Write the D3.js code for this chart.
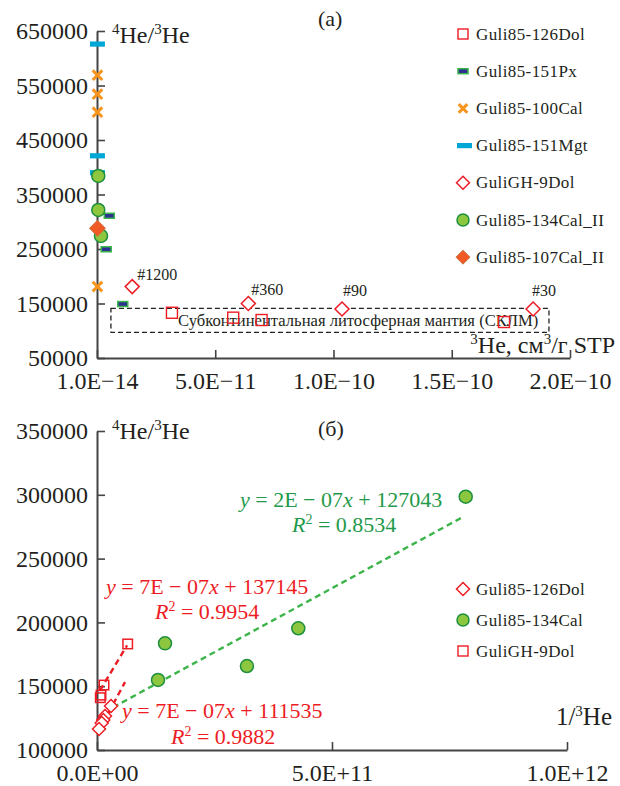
<!DOCTYPE html>
<html><head><meta charset="utf-8">
<script src="https://cdn.jsdelivr.net/npm/d3@7"></script>
<style>
body{margin:0;background:#fff;}
svg{display:block;font-family:"Liberation Serif","DejaVu Serif",serif;}
text{font-family:"Liberation Serif","DejaVu Serif",serif;fill:#231f20;}
</style></head>
<body><svg id="c" width="620" height="786"></svg>
<script>
// ---------- data: panel (a) ----------
const topTicksX = [1e-14, 5e-11, 1e-10, 1.5e-10, 2e-10];
const topTickLabelsX = ["1.0E\u221214","5.0E\u221211","1.0E\u221210","1.5E\u221210","2.0E\u221210"];
const topTicksY = [50000,150000,250000,350000,450000,550000,650000];
const dol126 = [[3.17e-11,133000],[5.76e-11,124000],[6.96e-11,119700],[1.721e-10,116000]];
const px151 = [[5.2e-12,311000],[3.9e-12,249500],[1.09e-11,149000]];
const cal100 = [[2e-13,569000],[2e-13,534000],[2e-13,501000],[2e-13,181000]];
const mgt151 = [[2e-13,626000],[2e-13,421000],[2e-13,390000]];
const gh9 = [[1.49e-11,181000],[6.40e-11,150000],[1.036e-10,140000],[1.844e-10,140000]];
const gh9Labels = ["#1200","#360","#90","#30"];
const cal134 = [[5.5e-13,384000],[5.5e-13,321600],[1.7e-12,274000]];
const cal107 = [[2e-13,288000]];
const sclmX = [5.9e-12, 1.911e-10];
const sclmY = [97000, 141000];
const sclmText = "Субконтинентальная литосферная мантия (СКЛМ)";
const legendTop = ["Guli85-126Dol","Guli85-151Px","Guli85-100Cal","Guli85-151Mgt","GuliGH-9Dol","Guli85-134Cal_II","Guli85-107Cal_II"];

// ---------- data: panel (б) ----------
const botTicksX = [0, 5e11, 1e12];
const botTickLabelsX = ["0.0E+00","5.0E+11","1.0E+12"];
const botTicksY = [100000,150000,200000,250000,300000,350000];
const cal134b = [[7.845e11,298500],[4.283e11,195400],[1.447e11,183600],[1.298e11,154900],[3.19e11,165800]];
const gh9b = [[6.53e10,183100],[1.49e10,150900],[7e9,141000],[8.5e9,143000]];
const dol126b = [[2.98e10,134500],[1.7e10,126600],[1.34e10,123500],[1.0e10,121200],[4.3e9,116500]];
const trendGreen = [[3.4e10,133400],[7.79e11,282700]];
const trendRedSq = [[6.4e9,146700],[6.4e10,182000]];
const trendRedDia = [[4.3e9,115300],[5.96e10,153200]];
const legendBot = ["Guli85-126Dol","Guli85-134Cal","GuliGH-9Dol"];
const eqGreen = ["2E \u2212 07", " + 127043", "0.8534"];
const eqRed1 = ["7E \u2212 07", " + 137145", "0.9954"];
const eqRed2 = ["7E \u2212 07", " + 111535", "0.9882"];

// ---------- styles ----------
const FONT = '"Liberation Serif","DejaVu Serif",serif';
const RED = "#ed1c24", GREEN_TXT = "#1f9a4a", GREEN_LINE = "#3cb44a";
const CIRC_FILL = "#8dc63f", CIRC_STROKE = "#1d8f3e";
const ORANGE = "#f7941d", ORANGE_D = "#f15a24", CYAN = "#00a6d6";
const PX_FILL = "#2e3192", PX_STROKE = "#39b54a";
const AXIS = "#444";

const svg = d3.select("#c");
svg.append("rect").attr("width",620).attr("height",786).attr("fill","#fff");

// marker helpers
function square(g, x, y, s, sw){ g.append("rect").attr("x",x-s/2).attr("y",y-s/2).attr("width",s).attr("height",s).attr("fill","none").attr("stroke",RED).attr("stroke-width",sw||1.4); }
function diamond(g, x, y, h, fill, stroke, sw){ g.append("path").attr("d",`M${x},${y-h}L${x+h},${y}L${x},${y+h}L${x-h},${y}Z`).attr("fill",fill).attr("stroke",stroke).attr("stroke-width",sw||1.4); }
function circle(g, x, y, r){ g.append("circle").attr("cx",x).attr("cy",y).attr("r",r).attr("fill",CIRC_FILL).attr("stroke",CIRC_STROKE).attr("stroke-width",1.5); }
function pxMark(g, x, y){ g.append("rect").attr("x",x-5).attr("y",y-2.5).attr("width",10).attr("height",5).attr("fill",PX_FILL).attr("stroke",PX_STROKE).attr("stroke-width",1.5); }
function cross(g, x, y, s){ g.append("path").attr("d",`M${x-s},${y-s}L${x+s},${y+s}M${x-s},${y+s}L${x+s},${y-s}`).attr("stroke",ORANGE).attr("stroke-width",3); }
function mgt(g, x, y, w){ g.append("rect").attr("x",x-w/2).attr("y",y-2.6).attr("width",w).attr("height",5.2).attr("fill",CYAN); }

function txt(g, x, y, size, color){
  return g.append("text").attr("x",x).attr("y",y).attr("font-size",size).attr("fill",color||"#231f20").style("font-family",FONT);
}
function heLabel(g, x, y, anchor, big, small, parts){
  const t = txt(g, x, y, big).attr("text-anchor",anchor);
  let up = false;
  parts.forEach(p=>{
    const sup = p[0]==="^";
    const s = t.append("tspan").text(sup? p.slice(1): p);
    if(sup){ s.attr("font-size",small).attr("dy", up? 0 : -big*0.38); up = true; }
    else { s.attr("font-size",big).attr("dy", up? big*0.38 : 0); up = false; }
  });
  return t;
}
function styleAxis(g){
  g.attr("font-family",null);
  g.selectAll("path.domain").attr("stroke",AXIS).attr("stroke-width",2);
  g.selectAll("line").attr("stroke",AXIS).attr("stroke-width",1.6);
  g.selectAll("text").attr("font-size",24).attr("fill","#231f20").style("font-family",FONT);
}

// ================= panel (a) =================
const xA = d3.scaleLinear().domain([1e-14, 2e-10]).range([97, 570]);
const yA = d3.scaleLinear().domain([50000, 650000]).range([358, 31]);
const gA = svg.append("g");

const axYA = d3.axisLeft(yA).tickValues(topTicksY).tickFormat(d3.format("d")).tickSize(-8).tickSizeOuter(0).tickPadding(9);
const gyA = gA.append("g").attr("transform","translate(97,0)").call(axYA);
const axXA = d3.axisBottom(xA).tickValues(topTicksX).tickFormat((d,i)=>topTickLabelsX[i]).tickSize(-8).tickSizeOuter(0).tickPadding(14);
const gxA = gA.append("g").attr("transform","translate(0,358)").call(axXA);
styleAxis(gyA); styleAxis(gxA);
gyA.selectAll(".tick text").attr("dy","0.32em");

// SCLM box
gA.append("rect").attr("x",xA(sclmX[0])).attr("y",yA(sclmY[1]))
  .attr("width",xA(sclmX[1])-xA(sclmX[0])).attr("height",yA(sclmY[0])-yA(sclmY[1]))
  .attr("fill","none").attr("stroke","#222").attr("stroke-width",1.3).attr("stroke-dasharray","5,3");
txt(gA, 178, 326, 16.6, GREEN_TXT).text(sclmText);

// series in legend order
dol126.forEach(d=>square(gA, xA(d[0]), yA(d[1]), 11));
px151.forEach(d=>pxMark(gA, xA(d[0]), yA(d[1])));
cal100.forEach(d=>cross(gA, xA(d[0]), yA(d[1]), 4.8));
mgt151.forEach(d=>mgt(gA, xA(d[0]), yA(d[1]), 15));
const gh9Off = [[5,-7],[3,-9],[1,-13],[-1,-13]];
gh9.forEach((d,i)=>{
  diamond(gA, xA(d[0]), yA(d[1]), 7, "#fff", RED, 1.5);
  txt(gA, xA(d[0])+gh9Off[i][0], yA(d[1])+gh9Off[i][1], 16, RED).text(gh9Labels[i]);
});
cal134.forEach(d=>circle(gA, xA(d[0]), yA(d[1]), 6.5));
cal107.forEach(d=>diamond(gA, xA(d[0]), yA(d[1]), 8, ORANGE_D, "#c8703c", 1));

heLabel(gA, 112, 43, "start", 24, 15, ["^4","He/","^3","He"]);
heLabel(gA, 615, 353, "end", 24, 15, ["^3","He, см","^3","/г STP"]);
txt(gA, 318, 26, 22).text("(a)");

// legend (a)
const legA = gA.append("g");
legendTop.forEach((name,i)=>{
  const y = 34 + i*37.2, x = 463;
  if(i===0) square(legA, x, y, 10);
  if(i===1) pxMark(legA, x, y);
  if(i===2) cross(legA, x, y, 4.3);
  if(i===3) mgt(legA, x+1.5, y, 15);
  if(i===4) diamond(legA, x, y, 6.5, "#fff", RED, 1.5);
  if(i===5) circle(legA, x, y, 6);
  if(i===6) diamond(legA, x, y, 7, ORANGE_D, "#c8703c", 1);
  txt(legA, 476, y+5.5, 17).attr("letter-spacing",0.4).text(name);
});

// ================= panel (б) =================
const xB = d3.scaleLinear().domain([0, 1e12]).range([97, 567]);
const yB = d3.scaleLinear().domain([100000, 350000]).range([750, 431]);
const gB = svg.append("g");
const axYB = d3.axisLeft(yB).tickValues(botTicksY).tickFormat(d3.format("d")).tickSize(-8).tickSizeOuter(0).tickPadding(9);
const gyB = gB.append("g").attr("transform","translate(97,0)").call(axYB);
const axXB = d3.axisBottom(xB).tickValues(botTicksX).tickFormat((d,i)=>botTickLabelsX[i]).tickSize(-8).tickSizeOuter(0).tickPadding(14);
const gxB = gB.append("g").attr("transform","translate(0,750)").call(axXB);
styleAxis(gyB); styleAxis(gxB);
gyB.selectAll(".tick text").attr("dy","0.32em");

const line = d3.line().x(d=>xB(d[0])).y(d=>yB(d[1]));
gB.append("path").attr("d",line(trendGreen)).attr("stroke",GREEN_LINE).attr("stroke-width",2.4).attr("stroke-dasharray","6,4").attr("fill","none");
gB.append("path").attr("d",line(trendRedSq)).attr("stroke",RED).attr("stroke-width",2.4).attr("stroke-dasharray","6,4").attr("fill","none");
gB.append("path").attr("d",line(trendRedDia)).attr("stroke",RED).attr("stroke-width",2.4).attr("stroke-dasharray","6,4").attr("fill","none");

dol126b.forEach(d=>diamond(gB, xB(d[0]), yB(d[1]), 6.5, "#fff", RED, 1.5));
cal134b.forEach(d=>circle(gB, xB(d[0]), yB(d[1]), 6.5));
gh9b.forEach(d=>square(gB, xB(d[0]), yB(d[1]), 9.5, 1.5));

function equation(g, x, y, color, eq){
  const t = txt(g, x, y, 22, color);
  t.append("tspan").attr("font-style","italic").attr("fill",color).text("y");
  t.append("tspan").attr("fill",color).text(" = " + eq[0]);
  t.append("tspan").attr("font-style","italic").attr("fill",color).text("x");
  t.append("tspan").attr("fill",color).text(eq[1]);
}
function rsq(g, x, y, color, val){
  const t = txt(g, x, y, 22, color);
  t.append("tspan").attr("font-style","italic").attr("fill",color).text("R");
  t.append("tspan").attr("font-size",14).attr("dy",-8).attr("fill",color).text("2");
  t.append("tspan").attr("dy",8).attr("fill",color).text(" = " + val);
}
equation(gB, 240, 507, GREEN_TXT, eqGreen); rsq(gB, 292, 532, GREEN_TXT, eqGreen[2]);
equation(gB, 106, 594, RED, eqRed1); rsq(gB, 155, 619, RED, eqRed1[2]);
equation(gB, 122, 718, RED, eqRed2); rsq(gB, 171, 744, RED, eqRed2[2]);

heLabel(gB, 112, 439, "start", 24, 15, ["^4","He/","^3","He"]);
heLabel(gB, 612, 725, "end", 25, 15, ["1/","^3","He"]);
txt(gB, 318, 436, 22).text("(б)");

const legB = gB.append("g");
legendBot.forEach((name,i)=>{
  const y = 589 + i*31, x = 463;
  if(i===0) diamond(legB, x, y, 6.5, "#fff", RED, 1.5);
  if(i===1) circle(legB, x, y, 6);
  if(i===2) square(legB, x, y, 10);
  txt(legB, 476, y+5.5, 17).attr("letter-spacing",0.4).text(name);
});
</script></body></html>
